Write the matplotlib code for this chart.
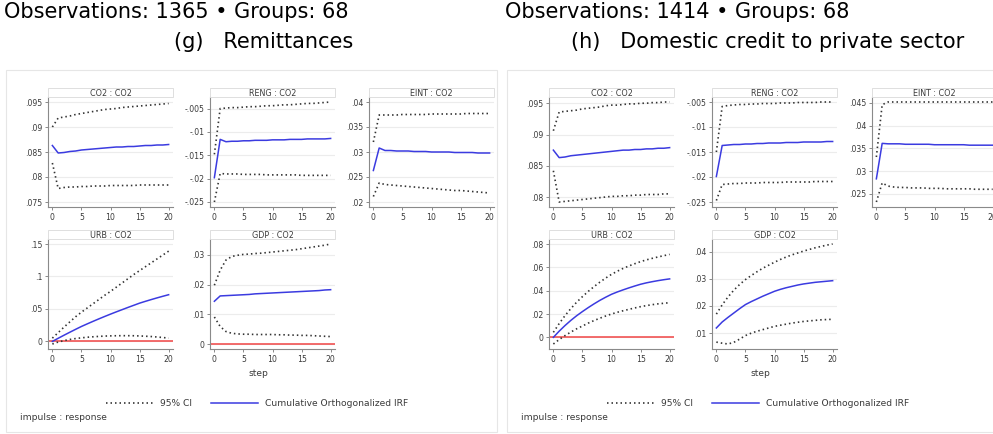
import matplotlib
matplotlib.use("Agg")
import matplotlib.pyplot as plt
from matplotlib.patches import Rectangle

# the reference is Arial stretched ~1.15x horizontally; DejaVu Sans has about that width
plt.rcParams['font.family'] = ['DejaVu Sans']

W, H = 993, 434

steps = list(range(21))

panel_obs = [1365, 1414]
panel_groups = [68, 68]
panel_titles = ["(g)   Remittances", "(h)   Domestic credit to private sector"]
sub_titles = ["CO2 : CO2", "RENG : CO2", "EINT : CO2", "URB : CO2", "GDP : CO2"]

# ---- panel (g) Remittances ----
g_co2_irf = [.0863, .0848, .0849, .0851, .0852, .0854, .0855, .0856, .0857, .0858, .0859,
             .0860, .0860, .0861, .0861, .0862, .0863, .0863, .0864, .0864, .0865]
g_co2_hi = [.0900, .0918, .0920, .0922, .0925, .0927, .0929, .0931, .0933, .0935, .0936,
            .0937, .0939, .0940, .0941, .0942, .0943, .0944, .0945, .0946, .0947]
g_co2_lo = [.0828, .0777, .0779, .0780, .0780, .0781, .0781, .0782, .0782, .0782, .0783,
            .0783, .0783, .0783, .0783, .0784, .0784, .0784, .0784, .0784, .0784]

g_reng_irf = [-.0198, -.0116, -.0121, -.0120, -.0120, -.0119, -.0119, -.0118, -.0118, -.0118, -.0117,
              -.0117, -.0117, -.0116, -.0116, -.0116, -.0115, -.0115, -.0115, -.0115, -.0114]
g_reng_hi = [-.0148, -.0050, -.0049, -.0048, -.0048, -.0047, -.0046, -.0046, -.0045, -.0044, -.0044,
             -.0043, -.0042, -.0042, -.0041, -.0040, -.0039, -.0039, -.0038, -.0037, -.0036]
g_reng_lo = [-.0250, -.0189, -.0190, -.0190, -.0190, -.0191, -.0191, -.0191, -.0191, -.0192, -.0192,
             -.0192, -.0192, -.0192, -.0192, -.0193, -.0193, -.0193, -.0193, -.0193, -.0193]

g_eint_irf = [.0263, .0308, .0303, .0303, .0302, .0302, .0302, .0301, .0301, .0301, .0300,
              .0300, .0300, .0300, .0299, .0299, .0299, .0299, .0298, .0298, .0298]
g_eint_hi = [.0320, .0374, .0374, .0374, .0374, .0375, .0375, .0375, .0375, .0375, .0376,
             .0376, .0376, .0376, .0376, .0376, .0377, .0377, .0377, .0377, .0377]
g_eint_lo = [.0211, .0238, .0235, .0234, .0233, .0232, .0231, .0230, .0229, .0228, .0227,
             .0226, .0225, .0224, .0223, .0223, .0222, .0221, .0220, .0219, .0218]

g_urb_irf = [0, .0048, .0095, .0141, .0186, .0230, .0270, .0309, .0347, .0384, .0420,
             .0455, .0489, .0523, .0556, .0589, .0617, .0644, .0670, .0695, .0719]
g_urb_hi = [.0050, .0135, .0220, .0300, .0380, .0450, .0515, .0580, .0645, .0710, .0770,
            .0835, .0900, .0965, .1030, .1090, .1150, .1210, .1270, .1330, .1390]
g_urb_lo = [-.0040, -.0010, .0012, .0030, .0044, .0055, .0064, .0071, .0077, .0082, .0085,
            .0087, .0088, .0088, .0087, .0084, .0080, .0075, .0068, .0060, .0050]

g_gdp_irf = [.0144, .0162, .0163, .0164, .0165, .0166, .0167, .0169, .0170, .0171, .0172,
             .0173, .0174, .0175, .0176, .0177, .0178, .0179, .0180, .0182, .0183]
g_gdp_hi = [.0198, .0249, .0283, .0295, .0299, .0302, .0303, .0305, .0306, .0308, .0310,
            .0312, .0314, .0316, .0318, .0321, .0324, .0327, .0330, .0333, .0337]
g_gdp_lo = [.0091, .0059, .0042, .0036, .0034, .0033, .0033, .0032, .0032, .0032, .0032,
            .0031, .0031, .0030, .0030, .0029, .0029, .0028, .0027, .0026, .0025]

# ---- panel (h) Domestic credit ----
h_co2_irf = [.0875, .0863, .0864, .0866, .0867, .0868, .0869, .0870, .0871, .0872, .0873,
             .0874, .0875, .0875, .0876, .0876, .0877, .0877, .0878, .0878, .0879]
h_co2_hi = [.0906, .0936, .0937, .0938, .0939, .0941, .0942, .0943, .0944, .0946, .0947,
            .0947, .0948, .0949, .0949, .0950, .0950, .0951, .0951, .0952, .0952]
h_co2_lo = [.0842, .0792, .0793, .0794, .0795, .0796, .0797, .0798, .0799, .0800, .0801,
            .0801, .0802, .0802, .0803, .0803, .0804, .0804, .0804, .0805, .0805]

h_reng_irf = [-.0199, -.0137, -.0136, -.0135, -.0135, -.0134, -.0134, -.0133, -.0133, -.0132, -.0132,
              -.0132, -.0131, -.0131, -.0131, -.0130, -.0130, -.0130, -.0130, -.0129, -.0129]
h_reng_hi = [-.0150, -.0059, -.0057, -.0056, -.0055, -.0055, -.0054, -.0054, -.0053, -.0053, -.0053,
             -.0052, -.0052, -.0052, -.0051, -.0051, -.0051, -.0051, -.0050, -.0050, -.0050]
h_reng_lo = [-.0247, -.0215, -.0214, -.0213, -.0213, -.0212, -.0212, -.0212, -.0211, -.0211, -.0211,
             -.0211, -.0210, -.0210, -.0210, -.0210, -.0210, -.0209, -.0209, -.0209, -.0209]

h_eint_irf = [.0283, .0361, .0360, .0360, .0360, .0359, .0359, .0359, .0359, .0359, .0358,
              .0358, .0358, .0358, .0358, .0358, .0357, .0357, .0357, .0357, .0357]
h_eint_hi = [.0331, .0446, .0452, .0452, .0452, .0452, .0452, .0452, .0452, .0452, .0452,
             .0452, .0452, .0452, .0452, .0452, .0452, .0452, .0452, .0452, .0452]
h_eint_lo = [.0232, .0274, .0267, .0265, .0264, .0264, .0263, .0263, .0263, .0262, .0262,
             .0262, .0261, .0261, .0261, .0261, .0261, .0260, .0260, .0260, .0260]

h_urb_irf = [0, .0053, .0101, .0145, .0185, .0221, .0255, .0287, .0317, .0344, .0369,
             .0389, .0407, .0424, .0440, .0455, .0467, .0477, .0486, .0494, .0501]
h_urb_hi = [.0043, .0118, .0186, .0246, .0301, .0349, .0394, .0435, .0473, .0508, .0540,
            .0567, .0591, .0612, .0631, .0649, .0664, .0677, .0689, .0700, .0711]
h_urb_lo = [-.0057, -.0019, .0015, .0045, .0073, .0097, .0122, .0144, .0164, .0183, .0200,
            .0215, .0228, .0240, .0252, .0263, .0272, .0280, .0287, .0292, .0297]

h_gdp_irf = [.0119, .0141, .0158, .0174, .0190, .0205, .0216, .0226, .0236, .0245, .0254,
             .0261, .0267, .0272, .0277, .0281, .0284, .0287, .0289, .0291, .0293]
h_gdp_hi = [.0170, .0204, .0233, .0258, .0279, .0297, .0312, .0326, .0339, .0350, .0361,
            .0371, .0380, .0388, .0395, .0402, .0408, .0414, .0419, .0424, .0428]
h_gdp_lo = [.0067, .0063, .0060, .0066, .0078, .0091, .0100, .0107, .0113, .0119, .0125,
            .0129, .0133, .0137, .0140, .0143, .0145, .0147, .0149, .0150, .0151]

g_yticks = [[.075, .08, .085, .09, .095], [-.025, -.02, -.015, -.01, -.005],
            [.02, .025, .03, .035, .04], [0, .05, .1, .15], [0, .01, .02, .03]]
h_yticks = [[.08, .085, .09, .095], [-.025, -.02, -.015, -.01, -.005],
            [.025, .03, .035, .04, .045], [0, .02, .04, .06, .08], [.01, .02, .03, .04]]

panels = [
    [(g_co2_irf, g_co2_lo, g_co2_hi), (g_reng_irf, g_reng_lo, g_reng_hi),
     (g_eint_irf, g_eint_lo, g_eint_hi), (g_urb_irf, g_urb_lo, g_urb_hi),
     (g_gdp_irf, g_gdp_lo, g_gdp_hi)],
    [(h_co2_irf, h_co2_lo, h_co2_hi), (h_reng_irf, h_reng_lo, h_reng_hi),
     (h_eint_irf, h_eint_lo, h_eint_hi), (h_urb_irf, h_urb_lo, h_urb_hi),
     (h_gdp_irf, h_gdp_lo, h_gdp_hi)],
]
yticks_all = [g_yticks, h_yticks]

BLUE = '#3b3be0'
RED = '#f04545'
CI = '#333333'
AXC = '#8a8a8a'
TXT = '#3a3a3a'


def stata_fmt(v):
    s = f"{v:g}"
    return s.replace("0.", ".", 1) if "0." in s else s


def px_axes(fig, x0, y0, w, h):
    return fig.add_axes([x0 / W, 1 - (y0 + h) / H, w / W, h / H])


def px_rect(fig, x0, y0, w, h, **kw):
    fig.add_artist(Rectangle((x0 / W, 1 - (y0 + h) / H), w / W, h / H,
                             transform=fig.transFigure, **kw))


fig = plt.figure(figsize=(W / 100, H / 100), dpi=100)

offsets = [0, 501]
title_center = [264, 768]
col_x = [[48, 210, 369], [549, 712, 872]]
band_y = [88, 230]
band_h, plot_w, plot_h = 9, 125, 110

for p in range(2):
    ox = offsets[p]
    fig.text((ox + 4) / W, 1 - 12 / H,
             f"Observations: {panel_obs[p]} \u2022 Groups: {panel_groups[p]}",
             fontsize=15, va='center', ha='left', color='black')
    fig.text(title_center[p] / W, 1 - 42 / H, panel_titles[p], fontsize=15,
             va='center', ha='center', color='black')
    px_rect(fig, ox + 6, 70, 491, 362, fill=False, edgecolor='#e6e6e6', lw=0.8)

    handles = None
    for k in range(5):
        row, col = divmod(k, 3)
        x0 = col_x[p][col]
        by = band_y[row]
        irf, lo, hi = panels[p][k]
        ticks = yticks_all[p][k]

        px_rect(fig, x0, by, plot_w, band_h, facecolor='white', edgecolor='#dedede', lw=0.7)
        fig.text((x0 + plot_w / 2) / W, 1 - (by + band_h / 2 + 0.5) / H, sub_titles[k],
                 fontsize=5.8, ha='center', va='center', color=TXT)

        ax = px_axes(fig, x0, by + band_h, plot_w, plot_h)
        for t in ticks:
            ax.axhline(t, color='#ececec', lw=0.8, zorder=0)
        ax.axhline(0, color=RED, lw=1.1, zorder=1)
        l_ci, = ax.plot(steps, hi, color=CI, lw=1.2, linestyle=(0, (0.9, 1.8)), zorder=3)
        ax.plot(steps, lo, color=CI, lw=1.2, linestyle=(0, (0.9, 1.8)), zorder=3)
        l_irf, = ax.plot(steps, irf, color=BLUE, lw=1.1, zorder=4)
        if handles is None:
            handles = [l_ci, l_irf]

        ylo = min(min(lo), ticks[0])
        yhi = max(max(hi), ticks[-1])
        pad = 0.05 * (yhi - ylo)
        ax.set_ylim(ylo - pad, yhi + pad)
        ax.set_xlim(-0.75, 20.75)
        ax.set_yticks(ticks)
        ax.set_yticklabels([stata_fmt(t) for t in ticks])
        ax.set_xticks([0, 5, 10, 15, 20])
        ax.tick_params(labelsize=5.6, colors=AXC, labelcolor=TXT, length=2.5, width=0.7, pad=1.5)
        for s in ['top', 'right']:
            ax.spines[s].set_visible(False)
        for s in ['left', 'bottom']:
            ax.spines[s].set_color(AXC)
            ax.spines[s].set_linewidth(0.8)
        ax.set_facecolor('none')

        if k == 4:
            fig.text((x0 + plot_w / 2 - 14) / W, 1 - 373 / H, "step", fontsize=6.6,
                     ha='center', va='center', color=TXT)

    fig.legend(handles, ["95% CI", "Cumulative Orthogonalized IRF"], loc='center',
               bbox_to_anchor=((ox + 257) / W, 1 - 404 / H), ncol=2, frameon=False,
               fontsize=6.6, handlelength=5.2, handletextpad=0.7, columnspacing=2.0,
               labelcolor=TXT)
    fig.text((ox + 20) / W, 1 - 418 / H, "impulse : response", fontsize=6.6,
             ha='left', va='center', color=TXT)

fig.savefig("out.png", dpi=100)
